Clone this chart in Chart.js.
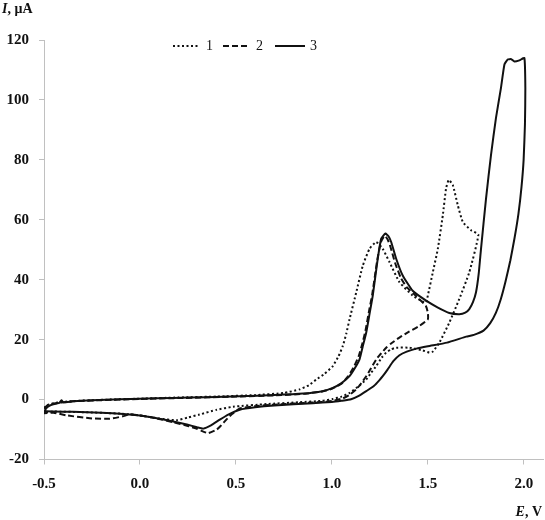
<!DOCTYPE html>
<html lang="en">
<head>
    <meta charset="UTF-8">
    <title>Cyclic voltammograms</title>
    <script src="https://cdn.jsdelivr.net/npm/chart.js"></script>
    <style>
        body {
            margin: 0;
            background: #ffffff;
        }
        canvas {
            display: block;
        }
    </style>
</head>
<body>
    <canvas id="cvChart" width="545" height="520"></canvas>
    <script>
        // curve 1 (dotted): potential E, V and current I, uA
        var e1 = [-0.5, -0.48, -0.45, -0.35, -0.2, 0.0, 0.2, 0.4, 0.6, 0.75, 0.832, 0.88, 0.919, 0.96, 1.005, 1.035, 1.057, 1.075, 1.092, 1.127, 1.161, 1.196, 1.231, 1.265, 1.3, 1.352, 1.421, 1.47, 1.491, 1.5, 1.526, 1.552, 1.578, 1.595, 1.609, 1.63, 1.656, 1.682, 1.725, 1.763,
                  1.716, 1.664, 1.612, 1.56, 1.526, 1.508, 1.473, 1.404, 1.335, 1.31, 1.283, 1.26, 1.231, 1.205, 1.179, 1.14, 1.092, 1.05, 1.005, 0.95, 0.83, 0.66, 0.485, 0.4, 0.31, 0.25, 0.19, 0.1, 0.0, -0.1, -0.3, -0.45, -0.5];
        var i1 = [-2.8, -1.8, -1.2, -0.5, -0.1, 0.3, 0.7, 1.0, 1.5, 2.2, 3.4, 4.8, 6.7, 8.5, 11.2, 14.5, 17.9, 22, 26.8, 35.8, 44.7, 50.3, 52.6, 50.3, 45.9, 39.2, 34.7, 32.8, 32.4, 34.7, 42.5, 50.3, 61.5, 70.5, 73.3, 71.6, 64.9, 59.3, 56.5, 55,
                  42.5, 33.6, 25.7, 19, 16.0, 15.7, 16.4, 17.3, 17.3, 16.8, 15.7, 14, 11.2, 9, 6.7, 4.5, 2.2, 1.0, 0.2, -0.4, -0.9, -1.5, -2.4, -3.4, -5.0, -6.0, -6.9, -6.3, -5.3, -4.7, -4.2, -4.0, -4.2];

        // curve 2 (dashed)
        var e2 = [-0.5, -0.48, -0.44, -0.35, -0.2, 0.0, 0.2, 0.5, 0.7, 0.85, 0.95, 1.0, 1.05, 1.085, 1.115, 1.14, 1.16, 1.175, 1.195, 1.21, 1.235, 1.255, 1.275, 1.29, 1.305, 1.33, 1.36, 1.39, 1.44, 1.49, 1.5, 1.5,
                  1.456, 1.4, 1.352, 1.31, 1.283, 1.255, 1.231, 1.2, 1.179, 1.15, 1.127, 1.09, 1.057, 1.0, 0.9, 0.7, 0.6, 0.52, 0.48, 0.45, 0.42, 0.4, 0.355, 0.32, 0.3, 0.25, 0.17, 0.1, 0.05, 0.0, -0.05, -0.09, -0.157, -0.25, -0.38, -0.45, -0.5];
        var i2 = [-3.0, -1.8, -1.2, -0.6, -0.2, 0.2, 0.5, 1.0, 1.4, 1.9, 2.7, 3.6, 5.3, 7.8, 11, 14.5, 19, 23, 30, 35, 46, 52.5, 54.6, 53.5, 51, 45.5, 40.5, 37.5, 34.5, 31.2, 29, 26.8,
                  24.6, 22.6, 20.7, 18.8, 17.3, 15.3, 13.4, 10.0, 7.8, 5.2, 3.4, 1.5, 0.4, -0.5, -1.0, -1.7, -2.2, -3.0, -4.8, -6.7, -8.8, -10.0, -11.2, -10.4, -9.8, -8.8, -7.5, -6.5, -5.8, -5.3, -4.9, -5.6, -6.4, -6.3, -5.3, -4.4, -4.6];

        // curve 3 (solid)
        var e3 = [-0.5, -0.49, -0.47, -0.44, -0.42, -0.409, -0.4, -0.35, -0.25, -0.1, 0.0, 0.17, 0.35, 0.52, 0.7, 0.85, 0.95, 1.005, 1.05, 1.092, 1.12, 1.144, 1.16, 1.179, 1.196, 1.213, 1.239, 1.257, 1.279, 1.295, 1.309, 1.335, 1.369, 1.421, 1.491, 1.55, 1.612, 1.664, 1.695, 1.716, 1.735, 1.751, 1.765, 1.777, 1.803, 1.829, 1.855, 1.881, 1.899, 1.916, 1.935, 1.951, 1.977, 2.003,
                  2.008, 2.006, 1.999, 1.988, 1.972, 1.952, 1.93, 1.905, 1.88, 1.855, 1.825, 1.79, 1.74, 1.7, 1.6, 1.5, 1.44, 1.39, 1.352, 1.32, 1.29, 1.265, 1.248, 1.22, 1.179, 1.14, 1.1, 1.05, 1.0, 0.9, 0.7, 0.6, 0.52, 0.46, 0.416, 0.37, 0.33, 0.3, 0.25, 0.173, 0.1, 0.05, 0.0, -0.087, -0.2, -0.35, -0.45, -0.49, -0.5];
        var i3 = [-4.5, -3.0, -2.0, -1.4, -1.1, -0.2, -0.9, -0.6, -0.2, 0.1, 0.25, 0.55, 0.8, 1.1, 1.5, 2.0, 2.8, 3.9, 5.5, 7.8, 10.5, 13.4, 17.5, 22.4, 28.5, 34.7, 47, 53.7, 55.4, 54.5, 52.6, 47, 41.4, 36.3, 33, 30.8, 28.9, 28.5, 29.0, 30.2, 32.5, 35.8, 42, 50.3, 67, 81.6, 94, 104, 111.8, 113.5, 113.6, 112.8, 113.2, 114,
                  104, 92, 80, 71, 62, 54, 46.5, 39.5, 33.5, 29, 25.5, 23.0, 21.6, 21.0, 19.0, 17.8, 17.0, 16.0, 14.8, 12.8, 10.0, 7.8, 6.5, 4.6, 2.8, 1.2, 0.1, -0.4, -0.8, -1.2, -2.0, -2.6, -3.4, -5.0, -6.7, -8.6, -9.7, -9.3, -8.4, -7.3, -6.4, -5.8, -5.3, -4.8, -4.4, -4.1, -4.0, -3.9, -4.5];

        var seriesNames = ['1', '2', '3'];
        var xTicks = [-0.5, 0.0, 0.5, 1.0, 1.5, 2.0];
        var yTicks = [-20, 0, 20, 40, 60, 80, 100, 120];

        function toPoints(xs, ys) {
            return xs.map(function (x, k) { return { x: x, y: ys[k] }; });
        }

        var serif = "'Liberation Serif', 'Times New Roman', serif";
        var dashes = [[2, 2.5], [6, 3], []];

        // legend and axis titles drawn on top of the chart
        var labelsPlugin = {
            id: 'labels',
            afterDraw: function (chart) {
                var ctx = chart.ctx;
                ctx.save();
                ctx.fillStyle = '#111';
                ctx.strokeStyle = '#111';
                ctx.textBaseline = 'alphabetic';

                // y title: I, uA
                ctx.textAlign = 'left';
                ctx.font = 'italic bold 14px ' + serif;
                ctx.fillText('I', 2, 13);
                var w = ctx.measureText('I').width;
                ctx.font = 'bold 14px ' + serif;
                ctx.fillText(', \u03bcA', 2 + w, 13);

                // x title: E, V
                ctx.font = 'bold 14px ' + serif;
                var tail = ', V';
                var tw = ctx.measureText(tail).width;
                ctx.textAlign = 'right';
                ctx.fillText(tail, 542, 516);
                ctx.font = 'italic bold 14px ' + serif;
                ctx.fillText('E', 542 - tw, 516);

                // legend
                var items = [[173, 200, 206], [223, 250, 256], [275, 305, 310]];
                ctx.textAlign = 'left';
                ctx.textBaseline = 'middle';
                ctx.font = '14px ' + serif;
                items.forEach(function (it, k) {
                    ctx.beginPath();
                    ctx.lineWidth = 2;
                    ctx.setLineDash(dashes[k]);
                    ctx.moveTo(it[0], 46);
                    ctx.lineTo(it[1], 46);
                    ctx.stroke();
                    ctx.setLineDash([]);
                    ctx.fillText(seriesNames[k], it[2], 46);
                });
                ctx.restore();
            }
        };

        var ctx = document.getElementById('cvChart').getContext('2d');
        var cvChart = new Chart(ctx, {
            type: 'scatter',
            data: {
                datasets: [
                    { label: seriesNames[0], data: toPoints(e1, i1), borderDash: dashes[0] },
                    { label: seriesNames[1], data: toPoints(e2, i2), borderDash: dashes[1] },
                    { label: seriesNames[2], data: toPoints(e3, i3), borderDash: dashes[2] }
                ]
            },
            options: {
                responsive: false,
                animation: false,
                showLine: true,
                layout: { padding: { top: 40, right: 2, left: 0, bottom: 0 } },
                elements: {
                    point: { radius: 0, hoverRadius: 0 },
                    line: { borderColor: '#111', borderWidth: 2, tension: 0.15, fill: false }
                },
                plugins: {
                    legend: { display: false },
                    tooltip: { enabled: false }
                },
                scales: {
                    x: {
                        type: 'linear',
                        min: -0.5,
                        max: 2.1,
                        afterBuildTicks: function (scale) {
                            scale.ticks = xTicks.map(function (v) { return { value: v }; });
                        },
                        afterFit: function (scale) { scale.height = 60.5; },
                        ticks: {
                            padding: 11,
                            color: '#111',
                            font: { family: serif, size: 15, weight: 'bold' },
                            callback: function (v) { return v.toFixed(1); }
                        },
                        grid: { drawOnChartArea: false, tickLength: 5, color: '#c0c0c0' },
                        border: { color: '#c0c0c0' }
                    },
                    y: {
                        min: -20,
                        max: 120,
                        afterBuildTicks: function (scale) {
                            scale.ticks = yTicks.map(function (v) { return { value: v }; });
                        },
                        afterFit: function (scale) { scale.width = 44; },
                        ticks: {
                            padding: 10,
                            color: '#111',
                            font: { family: serif, size: 15, weight: 'bold' },
                            callback: function (v) { return String(v); }
                        },
                        grid: { drawOnChartArea: false, tickLength: 5, color: '#c0c0c0' },
                        border: { color: '#c0c0c0' }
                    }
                }
            },
            plugins: [labelsPlugin]
        });
    </script>
</body>
</html>
